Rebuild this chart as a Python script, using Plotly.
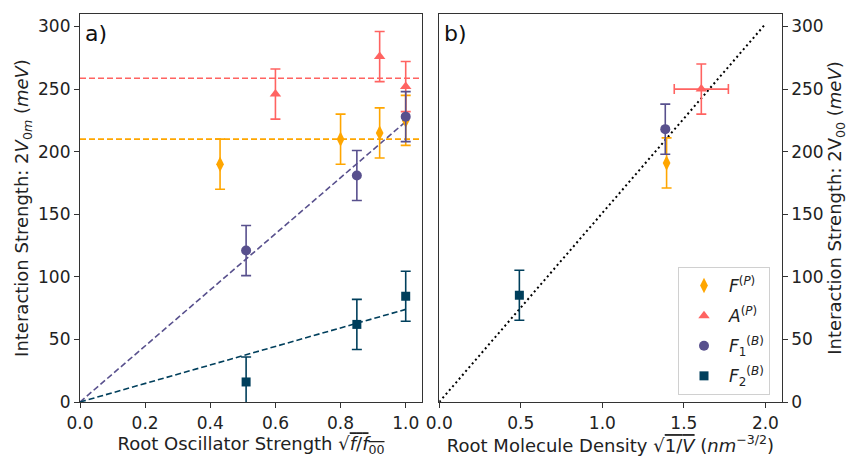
import plotly.graph_objects as go

# ---------------- data ----------------
# Panel a: root oscillator strength vs interaction strength
a_F_x = [0.43, 0.80, 0.92, 1.00]
a_F_y = [190, 210, 215, 225]
a_F_err = [20, 20, 20, 20]

a_A_x = [0.60, 0.92, 1.00]
a_A_y = [246, 276, 252]
a_A_err = [20, 20, 20]

a_F1_x = [0.51, 0.85, 1.00]
a_F1_y = [121, 181, 228]
a_F1_err = [20, 20, 20]

a_F2_x = [0.51, 0.85, 1.00]
a_F2_y = [16, 62, 84.5]
a_F2_err = [20, 20, 20]

# fitted levels / slopes in panel a
fit_F_level = 210
fit_A_level = 258.7
fit_F1_slope = 224
fit_F2_slope = 74
fit_x = [0.0, 1.0]
hline_x = [0.0, 1.05]

# Panel b: root molecule density vs interaction strength
b_names = ["<i>F</i><sup>(<i>P</i>)</sup>", "<i>A</i><sup>(<i>P</i>)</sup>",
           "<i>F</i><sub>1</sub><sup>(<i>B</i>)</sup>", "<i>F</i><sub>2</sub><sup>(<i>B</i>)</sup>"]
b_x = [1.394, 1.607, 1.386, 0.491]
b_y = [191, 250, 218, 85.3]
b_xerr = [0, 0.166, 0, 0]
b_yerr = [20, 20, 20, 20]

diag_x = [0.0, 2.0]
diag_slope = 151

# tick labels
a_ticks = [0.0, 0.2, 0.4, 0.6, 0.8, 1.0]
b_ticks = [0.0, 0.5, 1.0, 1.5, 2.0]
y_ticks = [0, 50, 100, 150, 200, 250, 300]

# ---------------- styling ----------------
colors = ["#ffa600", "#ff6361", "#58508d", "#003f5c"]
symbols = ["diamond-tall", "triangle-up", "circle", "square"]
sizes = [11, 10, 10, 9]
FONT = "DejaVu Sans"
AX = "#333333"
DASH = "6px,3px"

fig = go.Figure()

panel_a = [(a_F_x, a_F_y, a_F_err), (a_A_x, a_A_y, a_A_err),
           (a_F1_x, a_F1_y, a_F1_err), (a_F2_x, a_F2_y, a_F2_err)]

# fit lines panel a
fig.add_trace(go.Scatter(x=hline_x, y=[fit_A_level] * 2, mode="lines",
                         line=dict(color=colors[1], dash=DASH, width=1.6),
                         showlegend=False, xaxis="x", yaxis="y"))
fig.add_trace(go.Scatter(x=hline_x, y=[fit_F_level] * 2, mode="lines",
                         line=dict(color=colors[0], dash=DASH, width=1.6),
                         showlegend=False, xaxis="x", yaxis="y"))
fig.add_trace(go.Scatter(x=fit_x, y=[v * fit_F1_slope for v in fit_x], mode="lines",
                         line=dict(color=colors[2], dash=DASH, width=1.6),
                         showlegend=False, xaxis="x", yaxis="y"))
fig.add_trace(go.Scatter(x=fit_x, y=[v * fit_F2_slope for v in fit_x], mode="lines",
                         line=dict(color=colors[3], dash=DASH, width=1.6),
                         showlegend=False, xaxis="x", yaxis="y"))

for i, (xs, ys, es) in enumerate(panel_a):
    fig.add_trace(go.Scatter(
        x=xs, y=ys, mode="markers",
        marker=dict(color=colors[i], symbol=symbols[i], size=sizes[i]),
        error_y=dict(type="data", array=es, color=colors[i], thickness=1.6, width=5),
        showlegend=False, xaxis="x", yaxis="y"))

# panel b diagonal
fig.add_trace(go.Scatter(x=diag_x, y=[v * diag_slope for v in diag_x], mode="lines",
                         line=dict(color="black", dash="2px,3px", width=2),
                         showlegend=False, xaxis="x2", yaxis="y2"))

for i in range(4):
    fig.add_trace(go.Scatter(
        x=[b_x[i]], y=[b_y[i]], mode="markers", name=b_names[i],
        legendgroup="g%d" % i,
        marker=dict(color=colors[i], symbol=symbols[i], size=sizes[i]),
        error_y=dict(type="data", array=[b_yerr[i]], color=colors[i], thickness=1.6, width=5),
        error_x=dict(type="data", array=[b_xerr[i]], color=colors[i], thickness=1.6, width=5,
                     visible=b_xerr[i] > 0),
        xaxis="x2", yaxis="y2"))

axis_common = dict(showline=True, linecolor=AX, linewidth=1.2, mirror=True,
                   ticks="outside", ticklen=5, tickcolor=AX, showgrid=False,
                   zeroline=False, tickfont=dict(size=17, color="#222"),
                   automargin=False)

ydom = [55 / 457, 443 / 457]
fig.update_layout(
    width=848, height=457,
    margin=dict(l=0, r=0, t=0, b=0),
    paper_bgcolor="white", plot_bgcolor="white",
    font=dict(family=FONT, color="#222"),
    xaxis=dict(domain=[80 / 848, 422 / 848], range=[0, 1.05],
               tickvals=a_ticks, tickformat=".1f",
               title=dict(text="Root Oscillator Strength √<span style='text-decoration:overline'><i>f</i>/<i>f</i><sub>00</sub></span>",
                          font=dict(size=18), standoff=6),
               anchor="y", **axis_common),
    yaxis=dict(domain=ydom, range=[0, 310], tickvals=y_ticks,
               title=dict(text="Interaction Strength: 2<i>V</i><sub>0<i>m</i></sub> (<i>meV</i>)",
                          font=dict(size=18), standoff=4),
               anchor="x", **axis_common),
    xaxis2=dict(domain=[439.3 / 848, 781.7 / 848], range=[0, 2.1],
                tickvals=b_ticks, tickformat=".1f",
                title=dict(text="Root Molecule Density √<span style='text-decoration:overline'>1/<i>V</i></span> (<i>nm</i><sup>−3/2</sup>)",
                           font=dict(size=18), standoff=6),
                anchor="y2", **axis_common),
    yaxis2=dict(domain=ydom, range=[0, 310], tickvals=y_ticks, side="right",
                title=dict(text="Interaction Strength: 2V<sub>00</sub> (<i>meV</i>)",
                           font=dict(size=18), standoff=8),
                anchor="x2", **axis_common),
    legend=dict(x=678 / 848, y=(457 - 267) / 457, xanchor="left", yanchor="top",
                bordercolor="#d0d0d0", borderwidth=1, bgcolor="rgba(255,255,255,0.8)",
                font=dict(size=17, family=FONT), itemwidth=40, tracegroupgap=5),
    annotations=[
        dict(text="a)", x=83 / 848, y=(457 - 33) / 457, xref="paper", yref="paper",
             xanchor="left", yanchor="middle", showarrow=False, font=dict(size=22, color="#111")),
        dict(text="b)", x=442 / 848, y=(457 - 33) / 457, xref="paper", yref="paper",
             xanchor="left", yanchor="middle", showarrow=False, font=dict(size=22, color="#111")),
    ],
)

fig.write_html("out.html", config={"displayModeBar": False},
               post_script="document.body.style.margin='0';document.body.style.overflow='hidden';")
